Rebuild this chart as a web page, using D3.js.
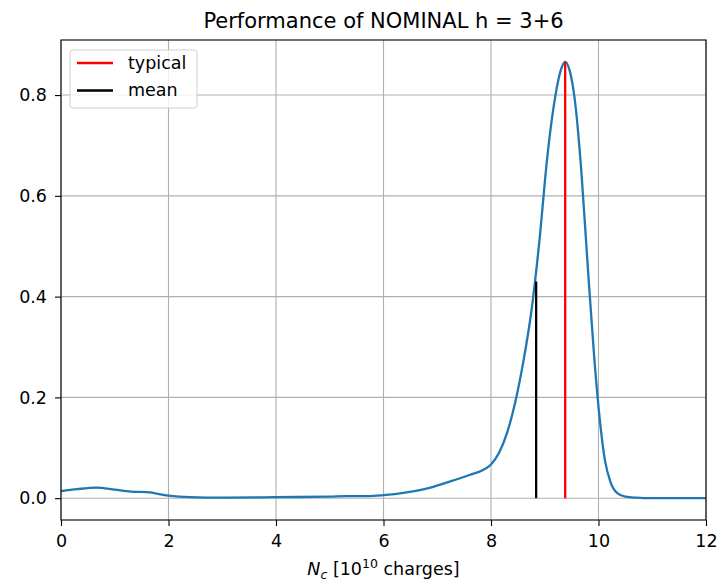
<!DOCTYPE html>
<html>
<head>
<meta charset="utf-8">
<script src="https://cdn.jsdelivr.net/npm/d3@7"></script>
<style>
	body { margin: 0; background: #fff; }
	text { font-family: "DejaVu Sans", sans-serif; fill: #000; }
</style>
</head>
<body>
<div id="chart"></div>
<script>
// Density curve
const charges = [0, 0.3, 0.66, 1.0, 1.3, 1.6, 2.0, 2.4, 3.0, 4.0, 5.0, 5.3, 5.7, 6.0, 6.4, 6.8, 7.2, 7.6, 7.85, 8.0, 8.15, 8.3, 8.45, 8.6, 8.75, 8.9, 9.05, 9.2, 9.3, 9.38, 9.46, 9.56, 9.68, 9.8, 9.92, 10.02, 10.12, 10.22, 10.35, 10.5, 10.7, 11, 12];
const density = [0.014, 0.018, 0.021, 0.017, 0.013, 0.012, 0.005, 0.002, 0.001, 0.002, 0.003, 0.004, 0.004, 0.006, 0.011, 0.019, 0.032, 0.046, 0.056, 0.067, 0.09, 0.13, 0.19, 0.27, 0.37, 0.51, 0.68, 0.80, 0.85, 0.866, 0.85, 0.79, 0.65, 0.46, 0.28, 0.16, 0.075, 0.033, 0.01, 0.003, 0.001, 0, 0];

// Markers: typical (mode) and mean
const markerNames = ['typical', 'mean'];
const markerX = [9.38, 8.84];
const markerTop = [0.866, 0.43];
const markerColors = ['#ff0000', '#000000'];

const xTicks = [0, 2, 4, 6, 8, 10, 12];
const yTicks = [0, 0.2, 0.4, 0.6, 0.8];

const W = 725, H = 581;
const margin = { top: 40, right: 19, bottom: 61, left: 61 };
const width = W - margin.left - margin.right;
const height = H - margin.top - margin.bottom;
const fontSize = 17.5;

const svg = d3.select('#chart').append('svg')
	.attr('width', W).attr('height', H);
const g = svg.append('g').attr('transform', `translate(${margin.left},${margin.top})`);

const x = d3.scaleLinear().domain([0, 12]).range([0, width]);
const yMax = d3.max(density);
const y = d3.scaleLinear().domain([-0.05 * yMax, yMax * 1.05]).range([height, 0]);

// Grid
g.append('g').selectAll('line').data(xTicks).enter().append('line')
	.attr('x1', d => x(d)).attr('x2', d => x(d)).attr('y1', 0).attr('y2', height)
	.attr('stroke', '#b0b0b0').attr('stroke-width', 1.1);
g.append('g').selectAll('line').data(yTicks).enter().append('line')
	.attr('x1', 0).attr('x2', width).attr('y1', d => y(d)).attr('y2', d => y(d))
	.attr('stroke', '#b0b0b0').attr('stroke-width', 1.1);

// Curve
const pts = charges.map((c, i) => [c, density[i]]);
g.append('path')
	.datum(pts)
	.attr('fill', 'none')
	.attr('stroke', '#1f77b4')
	.attr('stroke-width', 2.3)
	.attr('d', d3.line().x(d => x(d[0])).y(d => y(d[1])).curve(d3.curveMonotoneX));

// Vertical markers
markerNames.forEach((name, i) => {
	g.append('line')
		.attr('x1', x(markerX[i])).attr('x2', x(markerX[i]))
		.attr('y1', y(0)).attr('y2', y(markerTop[i]))
		.attr('stroke', markerColors[i]).attr('stroke-width', 2.3);
});

// Axes
const xAxis = g.append('g').attr('transform', `translate(0,${height})`)
	.call(d3.axisBottom(x).tickValues(xTicks).tickFormat(d3.format('d')).tickSize(6).tickPadding(8.5));
const yAxis = g.append('g')
	.call(d3.axisLeft(y).tickValues(yTicks).tickFormat(d3.format('.1f')).tickSize(6).tickPadding(8));
[xAxis, yAxis].forEach(a => {
	a.select('.domain').remove();
	a.selectAll('line').attr('stroke', '#000').attr('stroke-width', 1.1);
	a.selectAll('text').style('font-size', fontSize + 'px').style('font-family', '"DejaVu Sans", sans-serif');
});

// Frame
g.append('rect').attr('width', width).attr('height', height)
	.attr('fill', 'none').attr('stroke', '#000').attr('stroke-width', 1.1);

// Title
svg.append('text')
	.attr('x', margin.left + width / 2).attr('y', 28)
	.attr('text-anchor', 'middle').style('font-size', '21px')
	.text('Performance of NOMINAL h = 3+6');

// X label
const xl = svg.append('text')
	.attr('x', margin.left + width / 2).attr('y', 575)
	.attr('text-anchor', 'middle').style('font-size', fontSize + 'px');
xl.append('tspan').style('font-style', 'italic').text('N');
xl.append('tspan').style('font-style', 'italic').style('font-size', '12.5px').attr('dy', 4).text('c');
xl.append('tspan').attr('dy', -4).text(' [10');
xl.append('tspan').style('font-size', '12.5px').attr('dy', -7).text('10');
xl.append('tspan').attr('dy', 7).text(' charges]');

// Legend
const lg = g.append('g').attr('transform', 'translate(9,10)');
lg.append('rect').attr('width', 127).attr('height', 58).attr('rx', 3)
	.attr('fill', '#fff').attr('fill-opacity', 0.8)
	.attr('stroke', '#d0d0d0').attr('stroke-width', 1);
markerNames.forEach((name, i) => {
	const yy = 13 + i * 27.5;
	lg.append('line').attr('x1', 7).attr('x2', 43).attr('y1', yy).attr('y2', yy)
		.attr('stroke', markerColors[i]).attr('stroke-width', 2.3);
	lg.append('text').attr('x', 58).attr('y', yy + 5.5).style('font-size', fontSize + 'px').text(name);
});
</script>
</body>
</html>
